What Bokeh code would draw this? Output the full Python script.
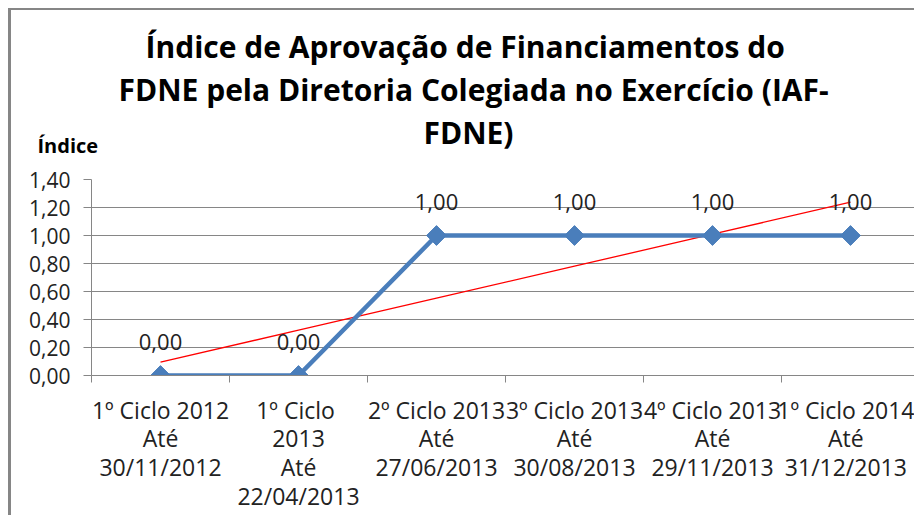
import numpy as np
from bokeh.plotting import figure
from bokeh.models import (ColumnDataSource, FixedTicker, CustomJSTickFormatter,
                          Range1d, Label, LabelSet, Title)
from bokeh.core.properties import value
from bokeh.embed import file_html
from bokeh.resources import INLINE

# ---- data ----
categories = [
    "1º Ciclo 2012\nAté\n30/11/2012",
    "1º  Ciclo\n2013\nAté\n22/04/2013",
    "2º Ciclo 2013\nAté\n27/06/2013",
    "3º Ciclo 2013\nAté\n30/08/2013",
    "4º Ciclo 2013\nAté\n29/11/2013",
    "1º Ciclo 2014\nAté\n31/12/2013",
]
indice = [0.00, 0.00, 1.00, 1.00, 1.00, 1.00]
y_ticks = [0.0, 0.2, 0.4, 0.6, 0.8, 1.0, 1.2, 1.4]
title_lines = [
    "Índice de Aprovação de Financiamentos do",
    "FDNE pela Diretoria Colegiada no Exercício (IAF-",
    "FDNE)",
]
y_title = "Índice"

FONT = "Open Sans"
GRID = "#868686"
BLUE = "#4A7EBB"
TXT = "#222222"

xs = list(range(1, len(categories) + 1))
slope, intercept = np.polyfit(xs, indice, 1)
trend_y = [slope * x + intercept for x in xs]

src = ColumnDataSource(dict(
    x=xs, y=indice,
    lbl=[f"{v:.2f}".replace(".", ",") for v in indice],
))

p = figure(width=906, height=507, output_backend="svg", toolbar_location=None,
           x_range=Range1d(0.5, 6.4855), y_range=Range1d(0, 1.4),
           min_border_left=80, min_border_right=0, min_border_top=169,
           min_border_bottom=142,
           styles={"margin-left": "8px", "margin-top": "8px",
                   "border-left": "3px solid #868686",
                   "border-top": "2px solid #868686"})
p.outline_line_color = None
p.background_fill_color = "white"
p.border_fill_color = "white"

# axes
p.xgrid.visible = False
p.ygrid.grid_line_color = GRID
p.ygrid.grid_line_width = 1

p.yaxis.ticker = FixedTicker(ticks=y_ticks)
p.yaxis.formatter = CustomJSTickFormatter(code="return tick.toFixed(2).replace('.', ',');")
p.yaxis.axis_line_color = GRID
p.yaxis.major_tick_line_color = GRID
p.yaxis.major_tick_out = 8
p.yaxis.major_tick_in = 0
p.yaxis.minor_tick_line_color = None
p.yaxis.major_label_standoff = 13
p.yaxis.major_label_text_font = FONT
p.yaxis.major_label_text_font_size = "21px"
p.yaxis.major_label_text_color = TXT

p.xaxis.ticker = FixedTicker(ticks=xs, minor_ticks=[x + 0.5 for x in [0] + xs])
p.xaxis.major_label_overrides = {x: c for x, c in zip(xs, categories)}
p.xaxis.axis_line_color = GRID
p.xaxis.major_tick_line_color = None
p.xaxis.major_tick_out = 0
p.xaxis.major_tick_in = 0
p.xaxis.minor_tick_line_color = GRID
p.xaxis.minor_tick_out = 7
p.xaxis.minor_tick_in = 0
p.xaxis.major_label_standoff = 11
p.xaxis.major_label_text_font = FONT
p.xaxis.major_label_text_font_size = "23px"
p.xaxis.major_label_text_color = TXT
p.xaxis.major_label_text_line_height = 0.9

# series
p.line(xs, trend_y, line_color="#FF0000", line_width=1.3)
p.line("x", "y", source=src, line_color=BLUE, line_width=4.5)
p.scatter("x", "y", source=src, marker="square", angle=np.pi / 4, size=14,
          fill_color=BLUE, line_color=BLUE)

p.add_layout(LabelSet(x="x", y="y", text="lbl", source=src, y_offset=34,
                      text_align="center", text_baseline="middle",
                      text_font=value(FONT), text_font_size="22px",
                      text_color=TXT))

# axis title
p.add_layout(Label(x=-54, y=21, x_units="screen", y_units="screen", text=y_title,
                   text_align="left", text_baseline="bottom",
                   text_font=FONT, text_font_style="bold",
                   text_font_size="20px", text_color="#000000"), "above")

# chart title, one row per line, closest row first
offsets = [54, 27, 332]
for t, off in reversed(list(zip(title_lines, offsets))):
    p.add_layout(Title(text=t, align="left", offset=off, standoff=0,
                       text_line_height=0.96,
                       text_font=FONT, text_font_style="bold",
                       text_font_size="30px", text_color="#000000"), "above")

open("out.html", "w").write(file_html(p, INLINE))
